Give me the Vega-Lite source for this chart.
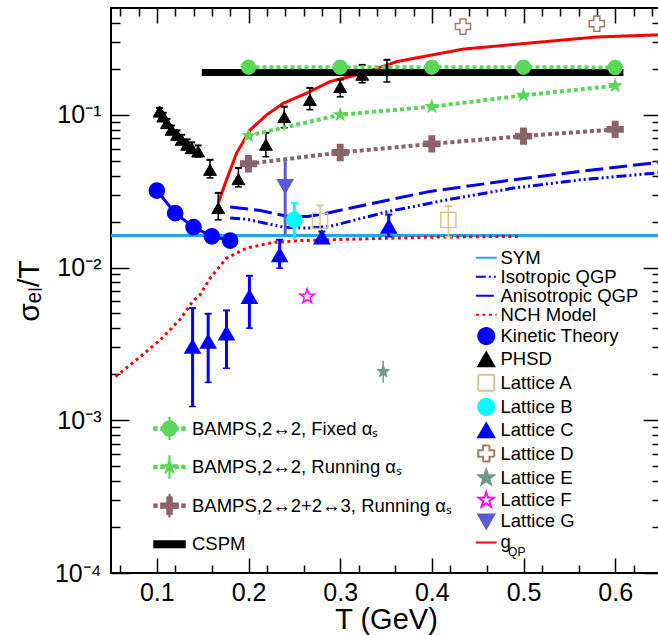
{
  "$schema": "https://vega.github.io/schema/vega-lite/v6.json",
  "width": 550,
  "height": 565,
  "autosize": {"type": "none"},
  "padding": {"left": 111, "top": 8, "right": 0, "bottom": 62},
  "background": "white",
  "config": {
    "font": "Liberation Sans",
    "view": {"stroke": "black", "strokeWidth": 2},
    "axis": {"grid": false, "labelColor": "black", "titleColor": "black", "tickColor": "black", "titleFontWeight": "normal"},
    "legend": {"labelFont": "Liberation Sans", "labelColor": "black", "labelLimit": 500}
  },
  "datasets": {
    "lines": [
      {"series": "SYM", "T": 0.05, "v": 0.0162},
      {"series": "SYM", "T": 0.65, "v": 0.0162},
      {"series": "Isotropic QGP", "T": 0.18, "v": 0.0211},
      {"series": "Isotropic QGP", "T": 0.198, "v": 0.0207},
      {"series": "Isotropic QGP", "T": 0.238, "v": 0.0184},
      {"series": "Isotropic QGP", "T": 0.264, "v": 0.0181},
      {"series": "Isotropic QGP", "T": 0.289, "v": 0.0186},
      {"series": "Isotropic QGP", "T": 0.353, "v": 0.0233},
      {"series": "Isotropic QGP", "T": 0.416, "v": 0.0277},
      {"series": "Isotropic QGP", "T": 0.489, "v": 0.0331},
      {"series": "Isotropic QGP", "T": 0.562, "v": 0.0375},
      {"series": "Isotropic QGP", "T": 0.65, "v": 0.0418},
      {"series": "Anisotropic QGP", "T": 0.18, "v": 0.0249},
      {"series": "Anisotropic QGP", "T": 0.213, "v": 0.0236},
      {"series": "Anisotropic QGP", "T": 0.245, "v": 0.0215},
      {"series": "Anisotropic QGP", "T": 0.265, "v": 0.0216},
      {"series": "Anisotropic QGP", "T": 0.289, "v": 0.0229},
      {"series": "Anisotropic QGP", "T": 0.353, "v": 0.0277},
      {"series": "Anisotropic QGP", "T": 0.398, "v": 0.0315},
      {"series": "Anisotropic QGP", "T": 0.489, "v": 0.0375},
      {"series": "Anisotropic QGP", "T": 0.562, "v": 0.0426},
      {"series": "Anisotropic QGP", "T": 0.65, "v": 0.049},
      {"series": "NCH Model", "T": 0.055, "v": 0.00193},
      {"series": "NCH Model", "T": 0.082, "v": 0.00261},
      {"series": "NCH Model", "T": 0.104, "v": 0.00337},
      {"series": "NCH Model", "T": 0.125, "v": 0.00455},
      {"series": "NCH Model", "T": 0.14, "v": 0.0061},
      {"series": "NCH Model", "T": 0.147, "v": 0.0066},
      {"series": "NCH Model", "T": 0.158, "v": 0.0085},
      {"series": "NCH Model", "T": 0.176, "v": 0.0115},
      {"series": "NCH Model", "T": 0.198, "v": 0.0134},
      {"series": "NCH Model", "T": 0.227, "v": 0.0146},
      {"series": "NCH Model", "T": 0.256, "v": 0.015},
      {"series": "NCH Model", "T": 0.289, "v": 0.0152},
      {"series": "NCH Model", "T": 0.398, "v": 0.0158},
      {"series": "NCH Model", "T": 0.496, "v": 0.016},
      {"series": "Kinetic Theory", "T": 0.1, "v": 0.0319},
      {"series": "Kinetic Theory", "T": 0.12, "v": 0.0227},
      {"series": "Kinetic Theory", "T": 0.14, "v": 0.0184},
      {"series": "Kinetic Theory", "T": 0.16, "v": 0.016},
      {"series": "Kinetic Theory", "T": 0.18, "v": 0.015},
      {"series": "gQP", "T": 0.167, "v": 0.0264},
      {"series": "gQP", "T": 0.176, "v": 0.0375},
      {"series": "gQP", "T": 0.187, "v": 0.0561},
      {"series": "gQP", "T": 0.202, "v": 0.0798},
      {"series": "gQP", "T": 0.22, "v": 0.1},
      {"series": "gQP", "T": 0.238, "v": 0.119},
      {"series": "gQP", "T": 0.264, "v": 0.139},
      {"series": "gQP", "T": 0.289, "v": 0.165},
      {"series": "gQP", "T": 0.325, "v": 0.187},
      {"series": "gQP", "T": 0.362, "v": 0.223},
      {"series": "gQP", "T": 0.434, "v": 0.269},
      {"series": "gQP", "T": 0.507, "v": 0.295},
      {"series": "gQP", "T": 0.58, "v": 0.323},
      {"series": "gQP", "T": 0.65, "v": 0.334}
    ],
    "points": [
      {"series": "Kinetic Theory", "T": 0.1, "v": 0.0319, "lo": null, "hi": null},
      {"series": "Kinetic Theory", "T": 0.12, "v": 0.0227, "lo": null, "hi": null},
      {"series": "Kinetic Theory", "T": 0.14, "v": 0.0184, "lo": null, "hi": null},
      {"series": "Kinetic Theory", "T": 0.16, "v": 0.016, "lo": null, "hi": null},
      {"series": "Kinetic Theory", "T": 0.18, "v": 0.015, "lo": null, "hi": null},
      {"series": "PHSD", "T": 0.103, "v": 0.105, "lo": 0.099, "hi": 0.111},
      {"series": "PHSD", "T": 0.107, "v": 0.0975, "lo": 0.092, "hi": 0.103},
      {"series": "PHSD", "T": 0.111, "v": 0.0883, "lo": 0.083, "hi": 0.094},
      {"series": "PHSD", "T": 0.116, "v": 0.0798, "lo": 0.075, "hi": 0.085},
      {"series": "PHSD", "T": 0.122, "v": 0.074, "lo": 0.069, "hi": 0.079},
      {"series": "PHSD", "T": 0.127, "v": 0.0686, "lo": 0.064, "hi": 0.074},
      {"series": "PHSD", "T": 0.133, "v": 0.0637, "lo": 0.059, "hi": 0.069},
      {"series": "PHSD", "T": 0.138, "v": 0.0605, "lo": 0.056, "hi": 0.066},
      {"series": "PHSD", "T": 0.145, "v": 0.0575, "lo": 0.053, "hi": 0.063},
      {"series": "PHSD", "T": 0.158, "v": 0.0436, "lo": 0.0386, "hi": 0.0507},
      {"series": "PHSD", "T": 0.167, "v": 0.0245, "lo": 0.0205, "hi": 0.0308},
      {"series": "PHSD", "T": 0.189, "v": 0.0379, "lo": 0.0337, "hi": 0.0449},
      {"series": "PHSD", "T": 0.219, "v": 0.0637, "lo": 0.0531, "hi": 0.0762},
      {"series": "PHSD", "T": 0.239, "v": 0.0966, "lo": 0.0822, "hi": 0.113},
      {"series": "PHSD", "T": 0.267, "v": 0.125, "lo": 0.108, "hi": 0.15},
      {"series": "PHSD", "T": 0.3, "v": 0.152, "lo": 0.131, "hi": 0.17},
      {"series": "PHSD", "T": 0.324, "v": 0.183, "lo": 0.162, "hi": 0.212},
      {"series": "PHSD", "T": 0.351, "v": 0.197, "lo": 0.164, "hi": 0.229},
      {"series": "Lattice A", "T": 0.278, "v": 0.0202, "lo": 0.0159, "hi": 0.0255},
      {"series": "Lattice A", "T": 0.418, "v": 0.0205, "lo": 0.0159, "hi": 0.0253},
      {"series": "Lattice B", "T": 0.25, "v": 0.0205, "lo": 0.0152, "hi": 0.0264},
      {"series": "Lattice C", "T": 0.139, "v": 0.00304, "lo": 0.00123, "hi": 0.00542},
      {"series": "Lattice C", "T": 0.156, "v": 0.00328, "lo": 0.00177, "hi": 0.00498},
      {"series": "Lattice C", "T": 0.176, "v": 0.00372, "lo": 0.00219, "hi": 0.00524},
      {"series": "Lattice C", "T": 0.201, "v": 0.00645, "lo": 0.00401, "hi": 0.00883},
      {"series": "Lattice C", "T": 0.234, "v": 0.0121, "lo": 0.0099, "hi": 0.0152},
      {"series": "Lattice C", "T": 0.28, "v": 0.0158, "lo": 0.0145, "hi": 0.0172},
      {"series": "Lattice C", "T": 0.353, "v": 0.0186, "lo": 0.0159, "hi": 0.0222},
      {"series": "Lattice D", "T": 0.434, "v": 0.378, "lo": null, "hi": null},
      {"series": "Lattice D", "T": 0.58, "v": 0.395, "lo": null, "hi": null},
      {"series": "Lattice E", "T": 0.347, "v": 0.00208, "lo": 0.00176, "hi": 0.00245},
      {"series": "Lattice F", "T": 0.264, "v": 0.00646, "lo": null, "hi": null},
      {"series": "Lattice G", "T": 0.24, "v": 0.034, "lo": 0.0164, "hi": 0.0513}
    ],
    "bamps": [
      {"bamps": "BAMPS,2↔2, Fixed αₛ", "T": 0.2, "v": 0.205},
      {"bamps": "BAMPS,2↔2, Fixed αₛ", "T": 0.3, "v": 0.205},
      {"bamps": "BAMPS,2↔2, Fixed αₛ", "T": 0.4, "v": 0.205},
      {"bamps": "BAMPS,2↔2, Fixed αₛ", "T": 0.5, "v": 0.205},
      {"bamps": "BAMPS,2↔2, Fixed αₛ", "T": 0.6, "v": 0.204},
      {"bamps": "BAMPS,2↔2, Running αₛ", "T": 0.2, "v": 0.0729},
      {"bamps": "BAMPS,2↔2, Running αₛ", "T": 0.3, "v": 0.1},
      {"bamps": "BAMPS,2↔2, Running αₛ", "T": 0.4, "v": 0.113},
      {"bamps": "BAMPS,2↔2, Running αₛ", "T": 0.5, "v": 0.134},
      {"bamps": "BAMPS,2↔2, Running αₛ", "T": 0.6, "v": 0.155},
      {"bamps": "BAMPS,2↔2+2↔3, Running αₛ", "T": 0.2, "v": 0.0478},
      {"bamps": "BAMPS,2↔2+2↔3, Running αₛ", "T": 0.3, "v": 0.0566},
      {"bamps": "BAMPS,2↔2+2↔3, Running αₛ", "T": 0.4, "v": 0.0645},
      {"bamps": "BAMPS,2↔2+2↔3, Running αₛ", "T": 0.5, "v": 0.0725},
      {"bamps": "BAMPS,2↔2+2↔3, Running αₛ", "T": 0.6, "v": 0.0802},
      {"bamps": "CSPM", "T": 0.149, "v": 0.189},
      {"bamps": "CSPM", "T": 0.609, "v": 0.189}
    ]
  },
  "resolve": {
    "scale": {"stroke": "independent", "fill": "independent", "shape": "independent", "strokeDash": "independent"},
    "axis": {"x": "independent", "y": "independent"}
  },
  "layer": [
    {
      "resolve": {"scale": {"stroke": "shared", "fill": "shared", "shape": "shared", "strokeDash": "shared"}},
      "layer": [
        {
          "data": {"name": "lines"},
          "mark": {"type": "line", "strokeWidth": 3, "strokeCap": "butt"},
          "encoding": {
            "x": {"field": "T", "type": "quantitative",
              "scale": {"domain": [0.05, 0.65], "nice": false, "zero": false},
              "axis": {"orient": "bottom", "title": "T (GeV)", "titleFontSize": 29, "titlePadding": 0,
                "values": [0.1, 0.2, 0.3, 0.4, 0.5, 0.6], "format": ".1f",
                "labelFontSize": 25, "labelPadding": 22, "labelOverlap": false, "labelFlush": false,
                "tickSize": -15, "tickWidth": 1.5, "domain": false}},
            "y": {"field": "v", "type": "quantitative",
              "scale": {"type": "log", "domain": [0.0001, 0.5], "nice": false},
              "axis": {"orient": "left", "title": "σₑₗ/T", "titleFontSize": 30, "titlePadding": 10,
                "values": [0.0001, 0.001, 0.01, 0.1],
                "labelExpr": "datum.value == 0.1 ? '10⁻¹' : datum.value == 0.01 ? '10⁻²' : datum.value == 0.001 ? '10⁻³' : '10⁻⁴'",
                "labelFontSize": 25, "labelPadding": 28, "labelOverlap": false, "labelFlush": false,
                "tickSize": -18, "tickWidth": 1.5, "domain": false}},
            "stroke": {"field": "series", "type": "nominal",
              "scale": {"domain": ["SYM","Isotropic QGP","Anisotropic QGP","NCH Model","Kinetic Theory","PHSD","Lattice A","Lattice B","Lattice C","Lattice D","Lattice E","Lattice F","Lattice G","gQP"],
                "range": ["#1ea7ee","#0000ff","#0000ff","#ff0000","#0000ff","#000000","#d6c88c","#00ffff","#0000ff","#a57a64","#6e9a88","#ff00ff","#5b5bd5","#ff0000"]},
              "legend": {"orient": "none", "legendX": 366, "legendY": 240.5, "title": null, "padding": 0,
                "symbolSize": 256, "symbolStrokeWidth": 2, "symbolOpacity": 1,
                "labelFontSize": 18.5, "labelOffset": 5, "rowPadding": -0.7,
                "labelExpr": "datum.value == 'gQP' ? 'g' : datum.label"}},
            "strokeDash": {"field": "series", "type": "nominal",
              "scale": {"domain": ["SYM","Isotropic QGP","Anisotropic QGP","NCH Model","Kinetic Theory","PHSD","Lattice A","Lattice B","Lattice C","Lattice D","Lattice E","Lattice F","Lattice G","gQP"],
                "range": [[1,0],[10,3,2,3,2,3,2,3],[18,6],[3,3.5],[1,0],[1,0],[1,0],[1,0],[1,0],[1,0],[1,0],[1,0],[1,0],[1,0]]}}
          }
        },
        {
          "data": {"name": "points"},
          "transform": [{"filter": "datum.lo != null && (datum.series == 'PHSD' || datum.series == 'Lattice A' || datum.series == 'Lattice E')"}],
          "mark": {"type": "rule", "strokeWidth": 1.5},
          "encoding": {
            "x": {"field": "T", "type": "quantitative"},
            "y": {"field": "lo", "type": "quantitative"},
            "y2": {"field": "hi"},
            "stroke": {"field": "series", "type": "nominal"}
          }
        },
        {
          "data": {"name": "points"},
          "transform": [{"filter": "datum.lo != null && (datum.series == 'Lattice B' || datum.series == 'Lattice C' || datum.series == 'Lattice G')"}],
          "mark": {"type": "rule", "strokeWidth": 3},
          "encoding": {
            "x": {"field": "T", "type": "quantitative"},
            "y": {"field": "lo", "type": "quantitative"},
            "y2": {"field": "hi"},
            "stroke": {"field": "series", "type": "nominal"}
          }
        },
        {
          "data": {"name": "points"},
          "transform": [{"filter": "datum.lo != null && (datum.series == 'PHSD' || datum.series == 'Lattice A' || datum.series == 'Lattice C')"}],
          "mark": {"type": "point", "shape": "stroke", "size": 49, "strokeWidth": 1.5, "opacity": 1},
          "encoding": {
            "x": {"field": "T", "type": "quantitative"},
            "y": {"field": "lo", "type": "quantitative"},
            "stroke": {"field": "series", "type": "nominal"}
          }
        },
        {
          "data": {"name": "points"},
          "transform": [{"filter": "datum.lo != null && (datum.series == 'PHSD' || datum.series == 'Lattice A' || datum.series == 'Lattice C' || datum.series == 'Lattice B')"}],
          "mark": {"type": "point", "shape": "stroke", "size": 49, "strokeWidth": 2, "opacity": 1},
          "encoding": {
            "x": {"field": "T", "type": "quantitative"},
            "y": {"field": "hi", "type": "quantitative"},
            "stroke": {"field": "series", "type": "nominal"}
          }
        },
        {
          "data": {"name": "points"},
          "transform": [{"filter": "datum.series != 'PHSD' && datum.series != 'Lattice E'"}],
          "mark": {"type": "point", "size": 230, "strokeWidth": 1.5, "opacity": 1},
          "encoding": {
            "x": {"field": "T", "type": "quantitative"},
            "y": {"field": "v", "type": "quantitative"},
            "stroke": {"field": "series", "type": "nominal"},
            "shape": {"field": "series", "type": "nominal",
              "scale": {"domain": ["SYM","Isotropic QGP","Anisotropic QGP","NCH Model","Kinetic Theory","PHSD","Lattice A","Lattice B","Lattice C","Lattice D","Lattice E","Lattice F","Lattice G","gQP"],
                "range": ["M-1.3,0H1.3","M-1.3,0H1.3","M-1.3,0H1.3","M-1.3,0H1.3","circle","triangle-up","square","circle","triangle-up","cross",
                  "M0,-1L0.235,-0.324L0.951,-0.309L0.38,0.124L0.588,0.809L0,0.4L-0.588,0.809L-0.38,0.124L-0.951,-0.309L-0.235,-0.324Z",
                  "M0,-1L0.235,-0.324L0.951,-0.309L0.38,0.124L0.588,0.809L0,0.4L-0.588,0.809L-0.38,0.124L-0.951,-0.309L-0.235,-0.324Z",
                  "triangle-down","M-1.3,0H1.3"]}},
            "fill": {"field": "series", "type": "nominal",
              "scale": {"domain": ["SYM","Isotropic QGP","Anisotropic QGP","NCH Model","Kinetic Theory","PHSD","Lattice A","Lattice B","Lattice C","Lattice D","Lattice E","Lattice F","Lattice G","gQP"],
                "range": ["transparent","transparent","transparent","transparent","#0000ff","#000000","transparent","#00ffff","#0000ff","transparent","#6e9a88","transparent","#5b5bd5","transparent"]}}
          }
        },
        {
          "data": {"name": "points"},
          "transform": [{"filter": "datum.series == 'PHSD' || datum.series == 'Lattice E'"}],
          "mark": {"type": "point", "size": 165, "strokeWidth": 1, "opacity": 1},
          "encoding": {
            "x": {"field": "T", "type": "quantitative"},
            "y": {"field": "v", "type": "quantitative"},
            "stroke": {"field": "series", "type": "nominal"},
            "shape": {"field": "series", "type": "nominal"},
            "fill": {"field": "series", "type": "nominal"}
          }
        }
      ]
    },
    {
      "resolve": {"scale": {"stroke": "shared", "fill": "shared", "shape": "shared", "strokeDash": "shared"}},
      "layer": [
        {
          "data": {"name": "bamps"},
          "transform": [{"filter": "datum.bamps == 'CSPM'"}],
          "mark": {"type": "line", "strokeWidth": 7, "strokeCap": "butt"},
          "encoding": {
            "x": {"field": "T", "type": "quantitative",
              "axis": {"orient": "bottom", "title": null, "labels": false, "domain": false,
                "values": [0.06,0.08,0.12,0.14,0.16,0.18,0.22,0.24,0.26,0.28,0.32,0.34,0.36,0.38,0.42,0.44,0.46,0.48,0.52,0.54,0.56,0.58,0.62,0.64],
                "tickSize": -8, "tickWidth": 1.5}},
            "y": {"field": "v", "type": "quantitative",
              "axis": {"orient": "left", "title": null, "labels": false, "domain": false,
                "values": [0.0002,0.0003,0.0004,0.0005,0.0006,0.0007,0.0008,0.0009,0.002,0.003,0.004,0.005,0.006,0.007,0.008,0.009,0.02,0.03,0.04,0.05,0.06,0.07,0.08,0.09,0.2,0.3,0.4],
                "tickSize": -9, "tickWidth": 1.5}},
            "stroke": {"field": "bamps", "type": "nominal",
              "scale": {"domain": ["BAMPS,2↔2, Fixed αₛ","BAMPS,2↔2, Running αₛ","BAMPS,2↔2+2↔3, Running αₛ","CSPM"],
                "range": ["#5ad65a","#5ad65a","#8b6469","#000000"]},
              "legend": {"orient": "none", "legendX": 48, "legendY": 410, "title": null, "padding": 0,
                "symbolSize": 400, "symbolStrokeWidth": 0.5, "symbolOpacity": 1,
                "labelFontSize": 18.5, "labelOffset": 12, "rowPadding": 13.6, "labelLimit": 500}}
          }
        },
        {
          "data": {"name": "bamps"},
          "transform": [{"filter": "datum.bamps != 'CSPM'"}],
          "mark": {"type": "line", "strokeWidth": 4, "strokeDash": [4, 3], "strokeCap": "butt"},
          "encoding": {
            "x": {"field": "T", "type": "quantitative"},
            "y": {"field": "v", "type": "quantitative"},
            "stroke": {"field": "bamps", "type": "nominal"}
          }
        },
        {
          "data": {"name": "bamps"},
          "transform": [{"filter": "datum.T > 10"}],
          "mark": {"type": "point", "opacity": 1, "strokeWidth": 0.5},
          "encoding": {
            "x": {"field": "T", "type": "quantitative"},
            "y": {"field": "v", "type": "quantitative"},
            "stroke": {"field": "bamps", "type": "nominal"},
            "fill": {"field": "bamps", "type": "nominal",
              "scale": {"domain": ["BAMPS,2↔2, Fixed αₛ","BAMPS,2↔2, Running αₛ","BAMPS,2↔2+2↔3, Running αₛ","CSPM"],
                "range": ["#5ad65a","#5ad65a","#8b6469","#000000"]}},
            "shape": {"field": "bamps", "type": "nominal",
              "scale": {"domain": ["BAMPS,2↔2, Fixed αₛ","BAMPS,2↔2, Running αₛ","BAMPS,2↔2+2↔3, Running αₛ","CSPM"],
                "range": [
                  "M-1.6,-0.2L-1.2,-0.2L-1.2,0.2L-1.6,0.2Z M-0.9,-0.2L-0.5,-0.2L-0.5,0.2L-0.9,0.2Z M0.5,-0.2L0.9,-0.2L0.9,0.2L0.5,0.2Z M1.2,-0.2L1.6,-0.2L1.6,0.2L1.2,0.2Z M-0.08,-1.15L0.08,-1.15L0.08,1.15L-0.08,1.15Z M0.8,0L0.739,0.306L0.566,0.566L0.306,0.739L0,0.8L-0.306,0.739L-0.566,0.566L-0.739,0.306L-0.8,0L-0.739,-0.306L-0.566,-0.566L-0.306,-0.739L0,-0.8L0.306,-0.739L0.566,-0.566L0.739,-0.306Z",
                  "M-1.6,-0.2L-1.2,-0.2L-1.2,0.2L-1.6,0.2Z M-0.9,-0.2L-0.5,-0.2L-0.5,0.2L-0.9,0.2Z M0.5,-0.2L0.9,-0.2L0.9,0.2L0.5,0.2Z M1.2,-0.2L1.6,-0.2L1.6,0.2L1.2,0.2Z M-0.08,-1.15L0.08,-1.15L0.08,1.15L-0.08,1.15Z M0,-0.85L0.2,-0.275L0.808,-0.263L0.323,0.105L0.5,0.688L0,0.34L-0.5,0.688L-0.323,0.105L-0.808,-0.263L-0.2,-0.275Z",
                  "M-1.6,-0.2L-1.2,-0.2L-1.2,0.2L-1.6,0.2Z M-0.9,-0.2L-0.5,-0.2L-0.5,0.2L-0.9,0.2Z M0.5,-0.2L0.9,-0.2L0.9,0.2L0.5,0.2Z M1.2,-0.2L1.6,-0.2L1.6,0.2L1.2,0.2Z M-0.08,-1.15L0.08,-1.15L0.08,1.15L-0.08,1.15Z M-0.9,-0.3L-0.3,-0.3L-0.3,-0.9L0.3,-0.9L0.3,-0.3L0.9,-0.3L0.9,0.3L0.3,0.3L0.3,0.9L-0.3,0.9L-0.3,0.3L-0.9,0.3Z",
                  "M-1.6,-0.38L1.6,-0.38L1.6,0.38L-1.6,0.38Z M-0.01,-1.15L0.01,-1.15 M-0.01,1.15L0.01,1.15"]}}
          }
        },
        {
          "data": {"name": "bamps"},
          "transform": [{"filter": "indexof(datum.bamps, 'Fixed') >= 0"}],
          "mark": {"type": "point", "shape": "circle", "filled": true, "size": 240, "opacity": 1, "strokeWidth": 0},
          "encoding": {
            "x": {"field": "T", "type": "quantitative"},
            "y": {"field": "v", "type": "quantitative"},
            "fill": {"field": "bamps", "type": "nominal"}
          }
        },
        {
          "data": {"name": "bamps"},
          "transform": [{"filter": "indexof(datum.bamps, 'Running') >= 0 && indexof(datum.bamps, '+') < 0"}],
          "mark": {"type": "point", "shape": "M0,-1L0.235,-0.324L0.951,-0.309L0.38,0.124L0.588,0.809L0,0.4L-0.588,0.809L-0.38,0.124L-0.951,-0.309L-0.235,-0.324Z", "filled": true, "size": 260, "opacity": 1, "strokeWidth": 0},
          "encoding": {
            "x": {"field": "T", "type": "quantitative"},
            "y": {"field": "v", "type": "quantitative"},
            "fill": {"field": "bamps", "type": "nominal"}
          }
        },
        {
          "data": {"name": "bamps"},
          "transform": [{"filter": "indexof(datum.bamps, '+') >= 0"}],
          "mark": {"type": "point", "shape": "cross", "filled": true, "size": 300, "opacity": 1, "strokeWidth": 0},
          "encoding": {
            "x": {"field": "T", "type": "quantitative"},
            "y": {"field": "v", "type": "quantitative"},
            "fill": {"field": "bamps", "type": "nominal"}
          }
        }
      ]
    },
    {
      "data": {"values": [{"sub": "QP"}]},
      "mark": {"type": "text", "fontSize": 12, "align": "left", "baseline": "middle", "font": "Liberation Sans"},
      "encoding": {
        "x": {"datum": 0.4832, "type": "quantitative",
          "axis": {"orient": "top", "title": null, "labels": false, "domain": false,
            "values": [0.06,0.08,0.1,0.12,0.14,0.16,0.18,0.2,0.22,0.24,0.26,0.28,0.3,0.32,0.34,0.36,0.38,0.4,0.42,0.44,0.46,0.48,0.5,0.52,0.54,0.56,0.58,0.6,0.62,0.64],
            "tickSize": -15,
            "tickDash": {"condition": {"test": "abs(datum.value*10 - round(datum.value*10)) < 0.001", "value": [1, 0]}, "value": [8, 40]},
            "tickWidth": 1.5}},
        "y": {"datum": 0.0001375, "type": "quantitative",
          "axis": {"orient": "right", "title": null, "labels": false, "domain": false,
            "values": [0.0001,0.0002,0.0003,0.0004,0.0005,0.0006,0.0007,0.0008,0.0009,0.001,0.002,0.003,0.004,0.005,0.006,0.007,0.008,0.009,0.01,0.02,0.03,0.04,0.05,0.06,0.07,0.08,0.09,0.1,0.2,0.3,0.4],
            "tickSize": -18,
            "tickDash": {"condition": {"test": "datum.value == 0.1 || datum.value == 0.01 || datum.value == 0.001 || datum.value == 0.0001", "value": [1, 0]}, "value": [9, 40]},
            "tickWidth": 1.5}},
        "text": {"field": "sub", "type": "nominal"}
      }
    }
  ]
}
